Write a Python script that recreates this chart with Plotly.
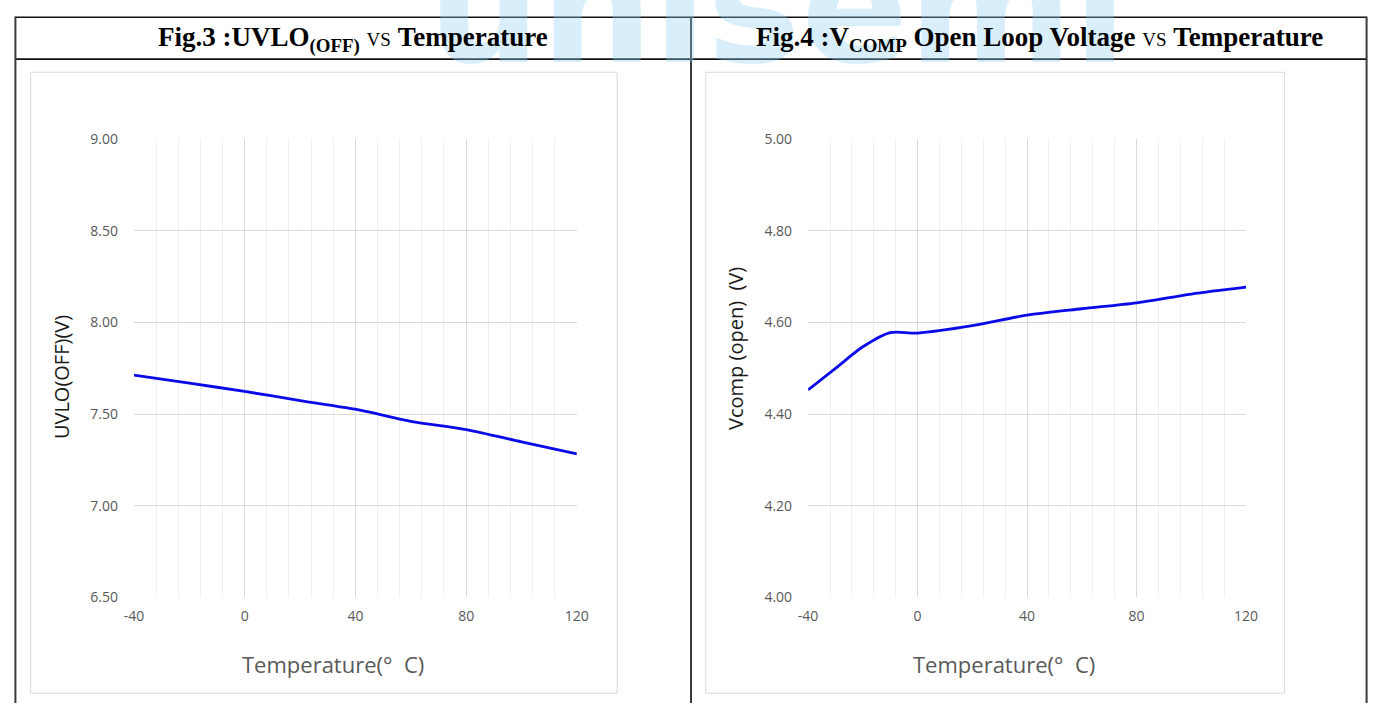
import plotly.graph_objects as go

W, H = 1384, 712

# ---------------- data ----------------
temp_uvlo = [-40, -20, 0, 20, 40, 60, 80, 100, 120]
uvlo_off = [7.713, 7.669, 7.624, 7.574, 7.527, 7.461, 7.416, 7.349, 7.283]

temp_vcomp = [-40, -30, -20, -10, 0, 20, 40, 60, 80, 100, 120]
vcomp_open = [4.453, 4.500, 4.547, 4.578, 4.577, 4.593, 4.616, 4.630, 4.643, 4.662, 4.677]

x_ticks = [-40, 0, 40, 80, 120]
x_tick_labels = ["-40", "0", "40", "80", "120"]
uvlo_ticks = [6.5, 7.0, 7.5, 8.0, 8.5, 9.0]
vcomp_ticks = [4.0, 4.2, 4.4, 4.6, 4.8, 5.0]

title_left = "<b>Fig.3 :UVLO<sub>(OFF)</sub></b> <span style='font-size:19px'>VS</span> <b>Temperature</b>"
title_right = "<b>Fig.4 :V<sub>COMP</sub> Open Loop Voltage</b> <span style='font-size:19px'>VS</span> <b>Temperature</b>"
ytitle_left = "UVLO(OFF)(V)"
ytitle_right = "Vcomp\u00a0(open)\u00a0\u00a0(V)"
xtitle = "Temperature(°\u00a0\u00a0C)"


def fx(p):
    return p / W


def fy(p):
    return 1 - p / H


LINE = "#0a0ae8"
GRID = "#d9d9d9"
MINOR = "#efefef"
TICKC = "#595959"

fig = go.Figure()
fig.add_trace(go.Scatter(x=temp_uvlo, y=uvlo_off, mode="lines",
                         line=dict(color=LINE, width=2.8, shape="spline", smoothing=0.8),
                         xaxis="x", yaxis="y", showlegend=False, hoverinfo="skip"))
fig.add_trace(go.Scatter(x=temp_vcomp, y=vcomp_open, mode="lines",
                         line=dict(color=LINE, width=2.8, shape="spline", smoothing=0.8),
                         xaxis="x2", yaxis="y2", showlegend=False, hoverinfo="skip"))

xcommon = dict(range=[-40, 120], tickvals=x_ticks, ticktext=x_tick_labels, showgrid=True, gridcolor=GRID, gridwidth=1,
               minor=dict(tick0=-40, dtick=8, showgrid=True, gridcolor=MINOR, gridwidth=1),
               zeroline=False, showline=False, ticks="", ticklabelstandoff=9,
               tickfont=dict(family="Open Sans", size=14, color=TICKC), fixedrange=True)
ycommon = dict(showgrid=True, gridcolor=GRID, gridwidth=1, zeroline=False, showline=False, ticks="",
               tickformat=".2f", ticklabelstandoff=15,
               tickfont=dict(family="Open Sans", size=14, color=TICKC), fixedrange=True)

ydom = [fy(603.6), fy(132.7)]
fig.update_layout(
    width=W, height=H, margin=dict(l=0, r=0, t=0, b=0),
    paper_bgcolor="white", plot_bgcolor="white",
    xaxis=dict(domain=[fx(126), fx(576)], anchor="y", **xcommon),
    yaxis=dict(domain=ydom, anchor="x", range=[6.5, 9.0], tickvals=uvlo_ticks, **ycommon),
    xaxis2=dict(domain=[fx(811), fx(1256)], anchor="y2", **xcommon),
    yaxis2=dict(domain=ydom, anchor="x2", range=[4.0, 5.0], tickvals=vcomp_ticks, **ycommon),
)

shapes = []
# chart-area frames
for x0, x1 in [(21, 617), (707, 1295)]:
    shapes.append(dict(type="rect", xref="paper", yref="paper", x0=fx(x0), x1=fx(x1), y0=fy(702), y1=fy(64),
                       line=dict(color="#d9d9d9", width=1), fillcolor="rgba(0,0,0,0)", layer="below"))
# table lines
for yy in [7.5, 50.5]:
    shapes.append(dict(type="line", xref="paper", yref="paper", x0=fx(5), x1=fx(1379), y0=fy(yy), y1=fy(yy),
                       line=dict(color="#111111", width=1.6), layer="above"))
for xx in [5.5, 692, 1378.5]:
    shapes.append(dict(type="line", xref="paper", yref="paper", x0=fx(xx), x1=fx(xx), y0=fy(7), y1=fy(712),
                       line=dict(color="#3a3a3a", width=2), layer="above"))
fig.update_layout(shapes=shapes)

ann = []
# watermark
ann.append(dict(text="<b>unisemi</b>", xref="paper", yref="paper", x=fx(780), y=fy(93), xanchor="center", yanchor="bottom",
                showarrow=False, font=dict(family="DejaVu Sans", size=158, color="rgba(140,205,244,0.34)")))
# header titles
ann.append(dict(text=title_left, xref="paper", yref="paper", x=fx(349), y=fy(30), xanchor="center", yanchor="middle",
                showarrow=False, font=dict(family="Liberation Serif", size=27, color="black")))
ann.append(dict(text=title_right, xref="paper", yref="paper", x=fx(1046), y=fy(30), xanchor="center", yanchor="middle",
                showarrow=False, font=dict(family="Liberation Serif", size=27, color="black")))
# axis titles
for xc in [328, 1010]:
    ann.append(dict(text=xtitle, xref="paper", yref="paper", x=fx(xc), y=fy(672), xanchor="center", yanchor="middle",
                    showarrow=False, font=dict(family="Open Sans", size=22, color=TICKC)))
ann.append(dict(text=ytitle_left, xref="paper", yref="paper", x=fx(53), y=fy(377), xanchor="center", yanchor="middle",
                textangle=-90, showarrow=False, font=dict(family="Open Sans", size=20, color="#1a1a1a")))
ann.append(dict(text=ytitle_right, xref="paper", yref="paper", x=fx(737), y=fy(348), xanchor="center", yanchor="middle",
                textangle=-90, showarrow=False, font=dict(family="Open Sans", size=20, color="#1a1a1a")))
fig.update_layout(annotations=ann)

page_fix = (
    "var d=document.getElementById('{plot_id}');"
    "d.style.position='fixed';d.style.left='0px';d.style.top='0px';"
    "var h=document.documentElement,b=document.body;"
    "h.style.margin='0';h.style.padding='0';h.style.overflow='hidden';"
    "b.style.margin='0';b.style.padding='0';b.style.overflow='hidden';"
)
fig.write_html("out.html", config={"displayModeBar": False}, post_script=page_fix)
